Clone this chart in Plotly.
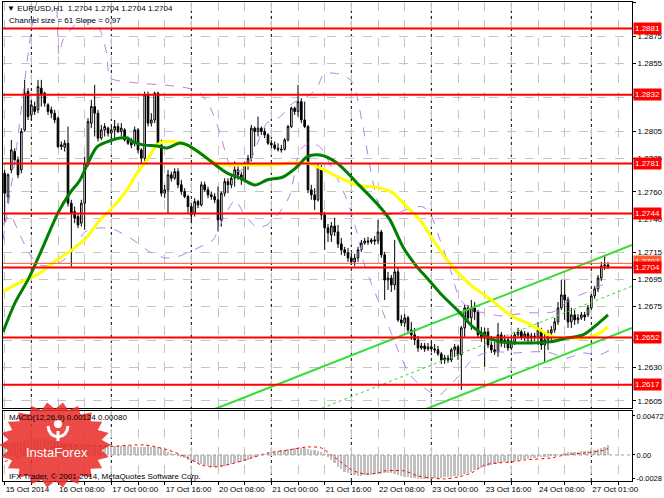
import math
import plotly.graph_objects as go

# ---------------- data ----------------
bars = list(range(182))
opens = [1.27738,1.27565,1.27763,1.27899,1.27837,1.27763,1.28059,1.28343,1.28170,1.28232,
1.28208,1.28368,1.28331,1.28245,1.28208,1.28183,1.28146,1.27948,1.27931,1.27960,
1.27516,1.27454,1.27417,1.27368,1.27516,1.27800,1.28109,1.28232,1.28183,1.27998,
1.28059,1.28072,1.28035,1.28059,1.28084,1.28047,1.28059,1.27985,1.27965,1.27960,
1.28059,1.27911,1.27849,1.28319,1.28109,1.28133,1.28331,1.27948,1.27590,1.27615,
1.27726,1.27701,1.27750,1.27652,1.27602,1.27565,1.27491,1.27442,1.27528,1.27503,
1.27652,1.27615,1.27578,1.27565,1.27541,1.27392,1.27590,1.27676,1.27652,1.27701,
1.27763,1.27726,1.27689,1.27800,1.27849,1.28072,1.28047,1.28072,1.28047,1.28022,
1.27960,1.27948,1.27923,1.27916,1.27916,1.27985,1.28084,1.28220,1.28195,1.28269,
1.28133,1.28084,1.27615,1.27578,1.27541,
1.27762,1.27429,1.27333,1.27281,1.27347,1.27303,1.27214,1.27170,1.27148,1.27110,
1.27081,1.27110,1.27170,1.27221,1.27236,1.27229,1.27244,1.27236,1.27303,1.27133,
1.26947,1.26962,1.26910,1.27007,1.26651,1.26629,1.26666,1.26577,1.26540,1.26503,
1.26443,1.26458,1.26436,1.26451,1.26436,1.26429,1.26399,1.26354,1.26369,1.26354,
1.26429,1.26451,1.26392,1.26592,1.26740,1.26666,1.26740,1.26710,1.26540,1.26517,
1.26562,1.26465,1.26429,1.26414,1.26540,1.26480,1.26503,1.26443,1.26488,1.26540,
1.26562,1.26525,1.26547,1.26517,1.26532,1.26525,1.26577,1.26465,1.26503,1.26555,
1.26577,1.26636,1.26740,1.26836,1.26799,1.26636,1.26688,1.26651,1.26666,1.26688,
1.26688,1.26740,1.26829,1.26881,1.26962,1.27051,1.27058]
highs = [1.27763,1.27738,1.27985,1.27923,1.27862,1.28072,1.28430,1.28368,1.28282,1.28269,
1.28430,1.28430,1.28343,1.28257,1.28232,1.28208,1.28158,1.27973,1.27985,1.28084,
1.27541,1.27491,1.27442,1.27541,1.27862,1.28146,1.28282,1.28393,1.28208,1.28096,
1.28109,1.28084,1.28084,1.28133,1.28109,1.28109,1.28072,1.28010,1.27998,1.28084,
1.28072,1.27923,1.28343,1.28343,1.28183,1.28343,1.28343,1.27985,1.27652,1.27763,
1.27750,1.27775,1.27775,1.27689,1.27627,1.27578,1.27516,1.27553,1.27541,1.27676,
1.27676,1.27639,1.27602,1.27590,1.27639,1.27602,1.27701,1.27701,1.27726,1.27825,
1.27812,1.27750,1.27825,1.27874,1.28096,1.28084,1.28158,1.28084,1.28072,1.28035,
1.27985,1.27973,1.27960,1.27948,1.27998,1.28096,1.28232,1.28232,1.28393,1.28294,
1.28269,1.28096,1.27652,1.27627,1.27812,
1.27799,1.27451,1.27362,1.27377,1.27407,1.27355,1.27258,1.27192,1.27184,1.27148,
1.27140,1.27192,1.27244,1.27258,1.27266,1.27258,1.27273,1.27392,1.27318,1.27155,
1.27007,1.26984,1.27244,1.27036,1.26688,1.26695,1.26681,1.26636,1.26592,1.26532,
1.26480,1.26480,1.26480,1.26488,1.26473,1.26458,1.26414,1.26392,1.26392,1.26443,
1.26473,1.26465,1.26606,1.26762,1.26762,1.26799,1.26784,1.26725,1.26599,1.26592,
1.26592,1.26532,1.26488,1.26629,1.26562,1.26540,1.26517,1.26517,1.26562,1.26592,
1.26577,1.26569,1.26562,1.26555,1.26555,1.26636,1.26592,1.26555,1.26577,1.26606,
1.26666,1.26784,1.26947,1.26947,1.26822,1.26740,1.26725,1.26695,1.26710,1.26710,
1.26762,1.26844,1.26903,1.26984,1.27081,1.27133,1.27081]
lows = [1.27368,1.27516,1.27738,1.27812,1.27701,1.27738,1.28047,1.28133,1.28133,1.28170,
1.28183,1.28232,1.28232,1.28170,1.28146,1.28109,1.27923,1.27911,1.27899,1.27491,
1.27046,1.27368,1.27331,1.27343,1.27318,1.27788,1.28072,1.28010,1.27973,1.27985,
1.28010,1.28010,1.27998,1.27998,1.28035,1.28010,1.27973,1.27948,1.27923,1.27936,
1.27886,1.27812,1.27825,1.28084,1.28084,1.28109,1.27936,1.27565,1.27553,1.27442,
1.27676,1.27689,1.27627,1.27578,1.27553,1.27442,1.27368,1.27417,1.27479,1.27491,
1.27602,1.27553,1.27541,1.27516,1.27306,1.27343,1.27565,1.27590,1.27627,1.27639,
1.27689,1.27652,1.27676,1.27763,1.27825,1.27936,1.28010,1.28022,1.27998,1.27948,
1.27923,1.27911,1.27899,1.27891,1.27906,1.27973,1.28072,1.28170,1.28158,1.28109,
1.28072,1.27590,1.27541,1.27466,1.27528,
1.27392,1.27170,1.27229,1.27229,1.27273,1.27184,1.27133,1.27125,1.27081,1.27058,
1.27051,1.27081,1.27155,1.27207,1.27207,1.27214,1.27207,1.27214,1.27110,1.26799,
1.26873,1.26858,1.26873,1.26636,1.26606,1.26599,1.26547,1.26503,1.26465,1.26414,
1.26429,1.26414,1.26421,1.26414,1.26406,1.26384,1.26325,1.26325,1.26332,1.26339,
1.26377,1.26354,1.26132,1.26525,1.26629,1.26577,1.26651,1.26517,1.26488,1.26303,
1.26443,1.26406,1.26392,1.26377,1.26451,1.26443,1.26421,1.26429,1.26465,1.26517,
1.26503,1.26495,1.26488,1.26488,1.26495,1.26465,1.26429,1.26339,1.26429,1.26503,
1.26555,1.26614,1.26725,1.26651,1.26592,1.26592,1.26614,1.26621,1.26651,1.26644,
1.26673,1.26725,1.26807,1.26858,1.26940,1.27021,1.27029]
closes = [1.27590,1.27726,1.27911,1.27837,1.27726,1.28047,1.28331,1.28158,1.28245,1.28195,
1.28380,1.28319,1.28257,1.28195,1.28183,1.28133,1.27936,1.27936,1.27960,1.27516,
1.27442,1.27405,1.27355,1.27516,1.27812,1.28121,1.28232,1.28183,1.27998,1.28059,
1.28084,1.28035,1.28059,1.28084,1.28047,1.28072,1.27985,1.27960,1.27948,1.28059,
1.27911,1.27849,1.28319,1.28109,1.28133,1.28331,1.27948,1.27590,1.27615,1.27726,
1.27701,1.27750,1.27652,1.27602,1.27565,1.27491,1.27429,1.27528,1.27503,1.27652,
1.27615,1.27578,1.27565,1.27541,1.27392,1.27590,1.27676,1.27652,1.27701,1.27763,
1.27726,1.27689,1.27800,1.27849,1.28072,1.28047,1.28072,1.28047,1.28022,1.27960,
1.27948,1.27923,1.27916,1.27911,1.27985,1.28084,1.28220,1.28195,1.28269,1.28133,
1.28084,1.27615,1.27578,1.27541,1.27788,
1.27429,1.27333,1.27296,1.27347,1.27303,1.27214,1.27170,1.27148,1.27110,1.27081,
1.27110,1.27170,1.27221,1.27236,1.27229,1.27244,1.27236,1.27303,1.27133,1.26947,
1.26962,1.26910,1.27007,1.26651,1.26629,1.26666,1.26577,1.26540,1.26503,1.26443,
1.26458,1.26436,1.26451,1.26436,1.26429,1.26399,1.26354,1.26369,1.26354,1.26429,
1.26451,1.26392,1.26592,1.26740,1.26666,1.26740,1.26710,1.26540,1.26517,1.26562,
1.26465,1.26429,1.26414,1.26540,1.26480,1.26503,1.26443,1.26488,1.26540,1.26562,
1.26525,1.26547,1.26517,1.26532,1.26525,1.26577,1.26465,1.26503,1.26555,1.26577,
1.26636,1.26740,1.26836,1.26799,1.26636,1.26688,1.26651,1.26666,1.26688,1.26673,
1.26740,1.26829,1.26881,1.26962,1.27051,1.27058,1.27040]

# moving averages (sampled from the chart: bar index, price)
green_x = [-0.5,3.1,7.3,11.5,16.0,19.6,22.6,25.0,27.7,30.7,34.6,36.7,38.5,41.5,45.7,48.7,52.6,54.7,
           58.6,62.5,66.7,70.6,75.1,78.7,83.5,87.7,90.7,94.6,99.7,105.7,112.6,115.6,119.5,123.7,
           126.7,130.6,136.6,140.5,144.7,148.6,153.7,158.5,163.6,168.7,173.5,178.6,181.0]
green_y = [1.26562,1.26777,1.26962,1.27192,1.27444,1.27592,1.27688,1.27814,1.27933,1.27970,1.27999,
           1.27999,1.27970,1.27948,1.27940,1.27925,1.27962,1.27948,1.27888,1.27814,1.27740,1.27703,
           1.27651,1.27688,1.27710,1.27785,1.27859,1.27873,1.27814,1.27666,1.27488,1.27392,1.27192,
           1.27044,1.26962,1.26851,1.26703,1.26599,1.26525,1.26488,1.26480,1.26480,1.26488,1.26517,
           1.26540,1.26636,1.26688]
yellow_x = [-0.5,3.1,7.6,10.6,15.7,20.2,24.7,28.6,32.5,36.7,39.7,42.7,45.7,47.5,51.7,54.7,58.6,62.5,
            66.7,70.6,78.7,86.5,90.7,94.6,100.6,105.7,112.6,116.5,120.7,124.6,128.5,132.7,137.5,
            140.5,144.7,148.6,152.5,156.7,160.6,164.5,168.7,174.7,178.6,181.0]
yellow_y = [1.26858,1.26910,1.26962,1.26999,1.27095,1.27170,1.27266,1.27392,1.27488,1.27614,1.27740,
            1.27836,1.27948,1.27970,1.27970,1.27948,1.27888,1.27822,1.27799,1.27799,1.27799,1.27814,
            1.27814,1.27777,1.27703,1.27651,1.27629,1.27592,1.27488,1.27392,1.27244,1.27095,1.26962,
            1.26895,1.26822,1.26747,1.26673,1.26629,1.26577,1.26525,1.26517,1.26517,1.26555,1.26599]

# envelope bands (dashed violet)
upper_x = [-0.5,3.1,5.5,7.6,9.4,12.1,15.1,16.3,17.5,21.1,25.6,28.6,30.7,31.6,39.7,47.5,54.7,58.6,61.6,
           64.6,66.7,68.5,72.7,76.6,78.7,82.6,86.5,90.7,93.7,95.5,97.6,101.5,104.5,107.5,109.6,111.7,
           113.5,118.6,122.5,125.5,127.6,130.6,133.6,135.7,137.5,140.5,148.6,156.7,164.5,168.7,172.6,
           176.5,180.7]
upper_y = [1.27244,1.27836,1.28318,1.28726,1.28985,1.29133,1.29059,1.28615,1.28726,1.28837,1.28874,
           1.28800,1.28615,1.28444,1.28407,1.28392,1.28370,1.28333,1.28229,1.28036,1.27851,1.27747,
           1.27785,1.28007,1.28111,1.28155,1.28259,1.28303,1.28370,1.28466,1.28481,1.28466,1.28407,
           1.28081,1.27785,1.27540,1.27429,1.27451,1.27488,1.27488,1.27444,1.27244,1.27036,1.26858,
           1.26777,1.26725,1.26681,1.26703,1.26710,1.26784,1.26836,1.26873,1.26932]
lower_x = [-0.5,1.6,4.6,7.6,10.6,15.1,19.6,24.1,28.6,33.1,38.5,43.6,48.1,52.6,58.6,62.5,66.1,69.1,71.5,
           75.7,78.7,82.6,85.6,88.6,91.6,94.6,98.5,102.7,105.7,107.5,109.6,112.6,115.6,118.6,121.6,
           124.6,127.6,130.6,133.6,136.6,139.6,142.6,145.6,148.6,153.1,157.6,162.7,168.7,173.5,178.6,
           181.6]
lower_y = [1.27355,1.27429,1.27281,1.27133,1.27058,1.27058,1.27133,1.27303,1.27333,1.27318,1.27244,
           1.27155,1.27110,1.27125,1.27192,1.27244,1.27429,1.27540,1.27451,1.27333,1.27355,1.27451,
           1.27577,1.27911,1.27962,1.27933,1.27762,1.27540,1.27296,1.27095,1.26947,1.26762,1.26577,
           1.26392,1.26243,1.26169,1.26117,1.26095,1.26169,1.26243,1.26340,1.26392,1.26414,1.26414,
           1.26406,1.26414,1.26414,1.26369,1.26406,1.26392,1.26429]

# regression channel (size 61 pips, slope 0.97)
chan_x = [60, 188.2]
chan_upper = [1.25961, 1.27206]
chan_mid = [1.25655, 1.26900]
chan_lower = [1.25346, 1.26591]

# support / resistance levels
levels = [1.2881, 1.2832, 1.2781, 1.2744, 1.2704, 1.2652, 1.2617]
ask_level = 1.2707

# MACD(12,26,9) main (histogram, 1e-5 units) and signal samples
macd_e5 = [145,150,155,160,165,170,175,180,185,190,190,190,188,185,180,175,
           170,160,150,140,130,120,115,110,115,120,125,125,122,120,118,116,
           115,113,112,110,108,106,104,102,100,98,100,105,102,100,95,80,
           60,40,20,5,-10,-25,-40,-55,-70,-85,-100,-115,-125,-135,-140,-145,
           -145,-140,-130,-120,-110,-100,-90,-80,-70,-60,-40,-25,-10,0,10,20,
           30,40,50,60,65,70,75,80,85,88,85,75,65,60,50,35,
           10,-20,-60,-100,-140,-170,-200,-220,-235,-245,-250,-250,-248,-245,-240,-235,
           -235,-228,-222,-220,-222,-228,-238,-250,-265,-272,-278,-282,-285,-287,-288,-288,
           -285,-282,-280,-276,-272,-268,-264,-260,-255,-245,-230,-215,-200,-185,-170,-155,
           -140,-128,-118,-110,-102,-95,-88,-80,-74,-68,-62,-56,-50,-45,-40,-35,
           -30,-25,-22,-20,-15,-8,0,10,22,32,38,40,42,45,48,52,58,
           66,78,90,102,115,124]
signal_x = [0,8,16,24,32,42,49,55,59,63,69,75,79,85,91,95,98,102,104,108,112,114,120,124,128,
            132,136,140,144,148,152,156,164,168,174,180,181]
signal_y = [-0.0008,0.0002,0.0010,0.0012,0.00105,0.00121,0.0006,-0.00036,-0.00121,-0.00145,-0.00097,
            -0.00024,0.00024,0.0006,0.00097,0.00085,0.0,-0.0012,-0.0018,-0.0023,-0.00218,-0.00194,
            -0.00194,-0.00254,-0.00278,-0.0029,-0.00266,-0.00218,-0.00121,-0.00097,-0.00085,-0.0006,
            -0.00036,0.0,0.00024,0.0006,0.0008]

price_ticks = [1.2900,1.2875,1.2855,1.2830,1.2805,1.2785,1.2760,1.2740,1.2715,1.2695,1.2675,1.2650,1.2630,1.2605]
price_hidden = [1.2830, 1.2650]
time_ticks = [0,16,32,48,64,80,96,112,128,144,160,176]
time_labels = ["15 Oct 2014","16 Oct 08:00","17 Oct 00:00","17 Oct 16:00","20 Oct 08:00","21 Oct 00:00",
               "21 Oct 16:00","22 Oct 08:00","23 Oct 00:00","23 Oct 16:00","24 Oct 08:00","27 Oct 01:00"]
day_separators = [8,32,56,80,104,128,152,176]

# ---------------- figure ----------------
W, H = 664, 498
ML, MR, MT, MB = 3, 32, 2, 17
PW, PH = W - ML - MR, H - MT - MB

def px(xp):
    return (xp - ML) / PW

def py(yp):
    return (H - MB - yp) / PH

FONT = "Liberation Sans, Arial, sans-serif"
BAND = "#b77ee6"
fig = go.Figure()

fig.add_trace(go.Scatter(x=upper_x, y=upper_y, mode="lines", xaxis="x", yaxis="y",
                         line=dict(color=BAND, width=1, dash="dash", shape="spline", smoothing=0.6)))
fig.add_trace(go.Scatter(x=lower_x, y=lower_y, mode="lines", xaxis="x", yaxis="y",
                         line=dict(color=BAND, width=1, dash="dash", shape="spline", smoothing=0.6)))
fig.add_trace(go.Scatter(x=chan_x, y=chan_mid, mode="lines", xaxis="x", yaxis="y",
                         line=dict(color="#33dd33", width=1, dash="dot")))
fig.add_trace(go.Scatter(x=chan_x, y=chan_upper, mode="lines", xaxis="x", yaxis="y",
                         line=dict(color="#33dd33", width=2)))
fig.add_trace(go.Scatter(x=chan_x, y=chan_lower, mode="lines", xaxis="x", yaxis="y",
                         line=dict(color="#33dd33", width=2)))
fig.add_trace(go.Candlestick(x=bars, open=opens, high=highs, low=lows, close=closes,
                             xaxis="x", yaxis="y", whiskerwidth=0,
                             increasing=dict(line=dict(color="#000000", width=1), fillcolor="#ffffff"),
                             decreasing=dict(line=dict(color="#000000", width=1), fillcolor="#000000")))
fig.add_trace(go.Scatter(x=yellow_x, y=yellow_y, mode="lines", xaxis="x", yaxis="y",
                         line=dict(color="#ffff00", width=3, shape="spline", smoothing=0.8)))
fig.add_trace(go.Scatter(x=green_x, y=green_y, mode="lines", xaxis="x", yaxis="y",
                         line=dict(color="#008000", width=3, shape="spline", smoothing=0.8)))

fig.add_trace(go.Bar(x=bars, y=[v * 1e-5 for v in macd_e5], xaxis="x2", yaxis="y2",
                     marker=dict(color="#c0c0c0", line=dict(width=0)), width=0.55))
fig.add_trace(go.Scatter(x=signal_x, y=signal_y, mode="lines", xaxis="x2", yaxis="y2",
                         line=dict(color="#ff0000", width=1, dash="dot", shape="spline", smoothing=0.8)))

xr = [-0.5, 188.2]
grid = dict(showgrid=True, gridcolor="#c4c4c4", griddash="dash", gridwidth=1)
fig.update_layout(
    width=W, height=H, margin=dict(l=ML, r=MR, t=MT, b=MB, autoexpand=False),
    paper_bgcolor="white", plot_bgcolor="white", showlegend=False, bargap=0,
    font=dict(family=FONT, size=8, color="black"),
    xaxis=dict(domain=[0, 1], range=xr, anchor="y", tickmode="linear", tick0=0, dtick=8,
               showticklabels=False, ticks="", showline=True, linecolor="black", mirror=True,
               rangeslider=dict(visible=False), zeroline=False, automargin=False, **grid),
    yaxis=dict(domain=[py(408), 1], range=[1.25998, 1.29007], side="right", anchor="x",
               tickmode="array", tickvals=price_ticks,
               ticktext=["" if v in price_hidden else f"{v:.4f}" for v in price_ticks],
               ticks="outside", ticklen=3, tickcolor="black", tickfont=dict(size=8),
               showline=True, linecolor="black", mirror=True, zeroline=False, automargin=False, **grid),
    xaxis2=dict(domain=[0, 1], range=xr, anchor="y2", tickmode="array",
                tickvals=list(range(0, 189, 8)),
                ticktext=[time_labels[time_ticks.index(b)] if b in time_ticks else "" for b in range(0, 189, 8)],
                ticklabelposition="outside right", tickangle=0, ticks="outside", ticklen=3,
                tickcolor="black", tickfont=dict(size=8), showline=True, linecolor="black",
                mirror=True, zeroline=False, automargin=False, **grid),
    yaxis2=dict(domain=[0, py(411)], range=[-0.00315, 0.00532], side="right", anchor="x2",
                tickmode="array", tickvals=[0.00472, 0.0, -0.0028], ticktext=["0.00472", "0.00", "-0.0028"],
                ticks="outside", ticklen=2, tickcolor="black", tickfont=dict(size=7.5),
                showline=True, linecolor="black", mirror=True, showgrid=False, zeroline=False,
                automargin=False),
)

shapes = []
for b in day_separators:
    shapes.append(dict(type="line", xref="x", yref="paper", x0=b, x1=b, y0=0, y1=1,
                       line=dict(color="#000000", width=1, dash="dot"), layer="below"))
shapes.append(dict(type="line", xref="x2 domain", yref="y2", x0=0, x1=1, y0=0, y1=0,
                   line=dict(color="#a0a0a0", width=1, dash="dot")))
shapes.append(dict(type="line", xref="x domain", yref="y", x0=0, x1=1, y0=ask_level, y1=ask_level,
                   line=dict(color="#ff5a36", width=1)))
for lv in levels:
    shapes.append(dict(type="line", xref="x domain", yref="y", x0=0, x1=1, y0=lv, y1=lv,
                       line=dict(color="#ff0000", width=2)))

# InstaForex starburst logo (decoration, pixel placed)
cx, cy, rx, ry, n = 55, 445, 56, 43, 22
pts = []
for k in range(2 * n):
    a = math.pi * k / n
    f = 1.0 if k % 2 == 0 else 0.84
    pts.append((px(cx + f * rx * math.cos(a)), py(cy + f * ry * math.sin(a))))
path = "M " + " L ".join(f"{x:.5f},{y:.5f}" for x, y in pts) + " Z"
shapes.append(dict(type="path", xref="paper", yref="paper", path=path,
                   fillcolor="rgba(232,44,40,0.86)", line=dict(width=0), layer="above"))
shapes.append(dict(type="circle", xref="paper", yref="paper",
                   x0=px(54), x1=px(62), y0=py(428), y1=py(420),
                   fillcolor="white", line=dict(width=0), layer="above"))
ypath = (f"M {px(48):.5f},{py(426):.5f} Q {px(49):.5f},{py(436):.5f} {px(58):.5f},{py(437):.5f} "
         f"Q {px(67):.5f},{py(436):.5f} {px(68):.5f},{py(426):.5f} "
         f"M {px(58):.5f},{py(431):.5f} L {px(58):.5f},{py(441):.5f}")
shapes.append(dict(type="path", xref="paper", yref="paper", path=ypath,
                   line=dict(color="white", width=3), layer="above"))
fig.update_layout(shapes=shapes)

ann = []
def label(xp, yp, text, size=8, color="black", anchor="left"):
    ann.append(dict(xref="paper", yref="paper", x=px(xp), y=py(yp), text=text, showarrow=False,
                    xanchor=anchor, yanchor="middle", font=dict(size=size, color=color, family=FONT)))

label(5, 8, "▼ EURUSD,H1  1.2704 1.2704 1.2704 1.2704")
label(7, 20, "Channel size = 61 Slope = 0,97")
label(7, 417, "MACD(12,26,9) 0.00124 0.00080")
label(7, 476, "IFX Trader, © 2001-2014, MetaQuotes Software Corp.")
label(57, 452, "InstaForex", size=13, color="white", anchor="center")

ann.append(dict(xref="paper", yref="y", x=1, y=ask_level, xanchor="left", yanchor="middle",
                xshift=1, yshift=2, text=f"{ask_level:.4f}", showarrow=False, bgcolor="#ff5a36",
                borderpad=1, font=dict(size=8, color="white", family=FONT)))
for lv in levels:
    ann.append(dict(xref="paper", yref="y", x=1, y=lv, xanchor="left", yanchor="middle",
                    xshift=1, text=f"{lv:.4f}", showarrow=False, bgcolor="#ff0000",
                    borderpad=1, font=dict(size=8, color="white", family=FONT)))
fig.update_layout(annotations=ann)

fig.write_html("out.html", config={"displayModeBar": False},
               post_script="document.body.style.margin='0px';document.body.style.padding='0px';"
                           "document.body.style.overflow='hidden';")
